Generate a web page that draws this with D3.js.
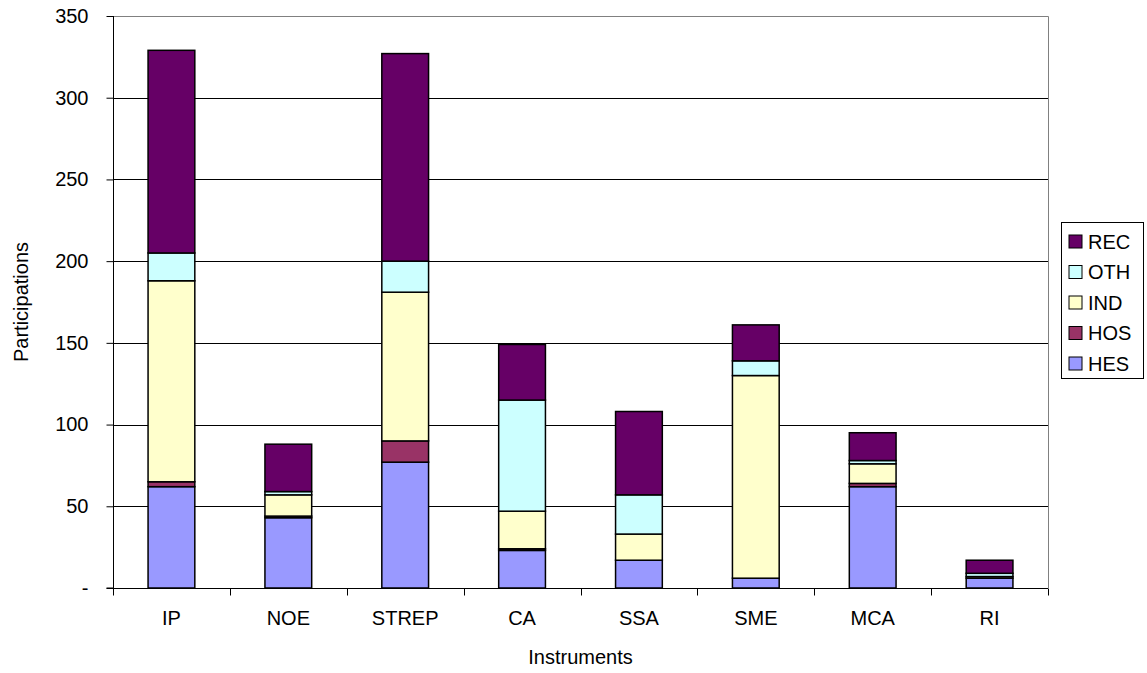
<!DOCTYPE html>
<html>
<head>
<meta charset="utf-8">
<script src="https://cdn.jsdelivr.net/npm/d3@7"></script>
<style>
  html, body { margin: 0; padding: 0; background: #fff; }
  svg { display: block; font-family: "Liberation Sans", Arial, sans-serif; }
</style>
</head>
<body>
<svg id="chart" width="1147" height="673"></svg>
<script>
const categories = ["IP", "NOE", "STREP", "CA", "SSA", "SME", "MCA", "RI"];
const seriesNames = ["HES", "HOS", "IND", "OTH", "REC"];
const HES = [62, 43, 77, 23, 17, 6, 62, 6];
const HOS = [3, 1, 13, 1, 0, 0, 2, 0];
const IND = [123, 13, 91, 23, 16, 124, 12, 1];
const OTH = [17, 2, 19, 68, 24, 9, 2, 2];
const REC = [124, 29, 127, 34, 51, 22, 17, 8];
const yTicks = [0, 50, 100, 150, 200, 250, 300, 350];
const colors = { HES: "#9999FF", HOS: "#993366", IND: "#FFFFCC", OTH: "#CCFFFF", REC: "#660066" };

const seriesValues = { HES, HOS, IND, OTH, REC };
const table = categories.map((c, i) => {
  const row = { cat: c };
  seriesNames.forEach(s => row[s] = seriesValues[s][i]);
  return row;
});

const svg = d3.select("#chart");
const L = 113, R = 1048, T = 16, B = 588;

const x = d3.scaleBand().domain(categories).range([L, R]).paddingInner(0).paddingOuter(0);
const y = d3.scaleLinear().domain([0, 350]).range([B, T]);

// gridlines
svg.append("g").selectAll("line").data(yTicks.filter(t => t > 0 && t < 350)).join("line")
  .attr("x1", L).attr("x2", R)
  .attr("y1", d => Math.round(y(d)) + 0.5).attr("y2", d => Math.round(y(d)) + 0.5)
  .attr("stroke", "#000").attr("stroke-width", 1);

// plot border (top & right)
svg.append("path")
  .attr("d", `M${L},${Math.round(y(350)) + 0.5}H${R + 0.5}V${B}`)
  .attr("fill", "none").attr("stroke", "#808080").attr("stroke-width", 1);

// bars
const stack = d3.stack().keys(seriesNames)(table);
const bw = x.bandwidth() * 0.4;
const gBars = svg.append("g");
stack.forEach(layer => {
  gBars.append("g").selectAll("rect").data(layer.filter(d => d[1] - d[0] > 0)).join("rect")
    .attr("x", d => x(d.data.cat) + (x.bandwidth() - bw) / 2)
    .attr("width", bw)
    .attr("y", d => y(d[1]))
    .attr("height", d => y(d[0]) - y(d[1]))
    .attr("fill", colors[layer.key])
    .attr("stroke", "#000").attr("stroke-width", 1.5);
});

// y axis
const yAxis = d3.axisLeft(y).tickValues(yTicks).tickSize(7).tickPadding(18)
  .tickFormat(d => d === 0 ? "-" : d);
const gy = svg.append("g").attr("transform", `translate(${L + 0.5},0)`).call(yAxis);
gy.select(".domain").attr("stroke", "#000").attr("d", `M-7,${B}H0V${T}`);
gy.selectAll(".tick line").attr("stroke", "#000");
gy.selectAll(".tick text").attr("font-size", 20).attr("fill", "#000")
  .attr("font-family", "'Liberation Sans', Arial, sans-serif");

// x axis
const xAxis = d3.axisBottom(x).tickSize(0).tickPadding(22);
const gx = svg.append("g").attr("transform", `translate(0,${B + 0.5})`).call(xAxis);
gx.select(".domain").attr("stroke", "#000").attr("d", `M${L},0H${R}`);
gx.selectAll(".tick text").attr("font-size", 20).attr("fill", "#000")
  .attr("font-family", "'Liberation Sans', Arial, sans-serif");
// boundary ticks
gx.append("g").selectAll("line").data(d3.range(categories.length + 1)).join("line")
  .attr("x1", i => Math.round(L + i * x.step()) + 0.5)
  .attr("x2", i => Math.round(L + i * x.step()) + 0.5)
  .attr("y1", 0).attr("y2", 7).attr("stroke", "#000");

// axis titles
svg.append("text").attr("x", (L + R) / 2).attr("y", 664)
  .attr("text-anchor", "middle").attr("font-size", 20).text("Instruments");
svg.append("text").attr("transform", `translate(28,${(T + B) / 2}) rotate(-90)`)
  .attr("text-anchor", "middle").attr("font-size", 20).text("Participations");

// legend
const lg = svg.append("g");
lg.append("rect").attr("x", 1061.5).attr("y", 222.5).attr("width", 82).attr("height", 156)
  .attr("fill", "#fff").attr("stroke", "#000").attr("stroke-width", 1);
const legendOrder = seriesNames.slice().reverse();
const items = lg.selectAll("g.item").data(legendOrder).join("g")
  .attr("transform", (d, i) => `translate(1069,${241.5 + i * 30.5})`);
items.append("rect").attr("x", 0).attr("y", -6.5).attr("width", 13).attr("height", 13)
  .attr("fill", d => colors[d]).attr("stroke", "#000").attr("stroke-width", 1);
items.append("text").attr("x", 19).attr("y", 0).attr("dy", "0.35em")
  .attr("font-size", 20).text(d => d);
</script>
</body>
</html>
